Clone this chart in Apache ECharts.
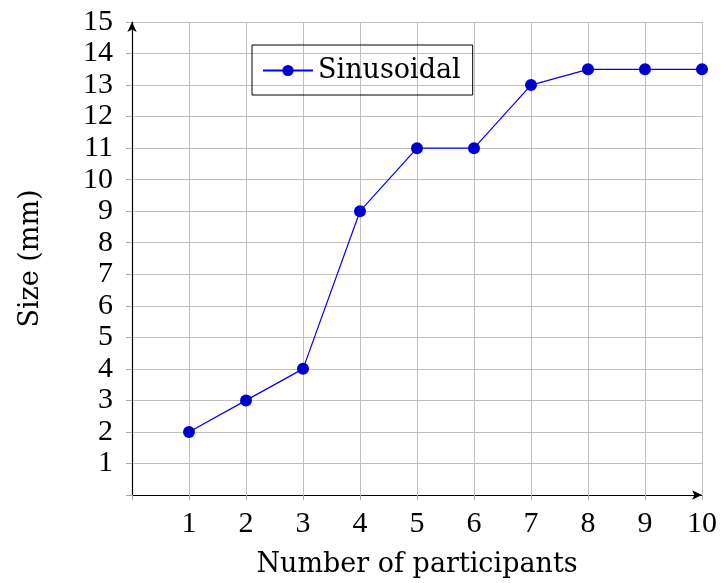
<!DOCTYPE html>
<html><head><meta charset="utf-8">
<script src="https://cdn.jsdelivr.net/npm/echarts@6/dist/echarts.min.js"></script>
<style>html,body{margin:0;padding:0;background:#fff}#c{width:721px;height:583px}</style>
</head><body><div id="c"></div>
<script>
const participants = [1, 2, 3, 4, 5, 6, 7, 8, 9, 10];
const sizes = [2, 3, 4, 9, 11, 11, 13, 13.5, 13.5, 13.5];
const seriesName = 'Sinusoidal';
const xTitle = 'Number of participants';
const yTitle = 'Size (mm)';

const NUMFONT = 'Liberation Serif';
const TXTFONT = 'DejaVu Serif';
const chart = echarts.init(document.getElementById('c'));
chart.setOption({
  animation: false,
  textStyle: { fontFamily: NUMFONT },
  grid: { left: 132, right: 19, top: 22, bottom: 88, containLabel: false, outerBoundsMode: 'none' },
  legend: {
    left: 252, top: 45,
    data: [seriesName],
    itemWidth: 50, itemHeight: 14, itemGap: 6,
    padding: [12, 12, 11, 10],
    borderColor: '#000', borderWidth: 1,
    textStyle: { fontFamily: TXTFONT, fontSize: 27, color: '#000' }
  },
  xAxis: {
    type: 'value', min: 0, max: 10, interval: 1,
    name: xTitle, nameLocation: 'middle', nameGap: 56,
    nameTextStyle: { fontFamily: TXTFONT, fontSize: 27, color: '#000' },
    axisLine: { show: true, onZero: false, symbol: ['none', 'arrow'], symbolSize: [7, 10], lineStyle: { color: '#000', width: 1.2 } },
    axisTick: { show: true, length: 5, inside: false, lineStyle: { color: '#aaa' } },
    axisLabel: { fontFamily: NUMFONT, fontSize: 30, color: '#000', margin: 14,
      formatter: v => v === 0 ? '' : String(v) },
    splitLine: { show: true, lineStyle: { color: '#c0c0c0', width: 1 } }
  },
  yAxis: {
    type: 'value', min: 0, max: 15, interval: 1,
    name: yTitle, nameLocation: 'middle', nameGap: 88, nameRotate: 90,
    nameTextStyle: { fontFamily: TXTFONT, fontSize: 27, color: '#000' },
    axisLine: { show: true, onZero: false, symbol: ['none', 'arrow'], symbolSize: [7, 10], lineStyle: { color: '#000', width: 1.2 } },
    axisTick: { show: true, length: 6, inside: false, lineStyle: { color: '#aaa' } },
    axisLabel: { fontFamily: NUMFONT, fontSize: 30, color: '#000', margin: 19,
      formatter: v => v === 0 ? '' : String(v) },
    splitLine: { show: true, lineStyle: { color: '#c0c0c0', width: 1 } }
  },
  series: [{
    name: seriesName,
    type: 'line',
    data: participants.map((p, i) => [p, sizes[i]]),
    symbol: 'circle', symbolSize: 12,
    lineStyle: { color: '#0000ff', width: 1.2 },
    itemStyle: { color: '#0000cc', borderWidth: 0 }
  }]
});
</script></body></html>
